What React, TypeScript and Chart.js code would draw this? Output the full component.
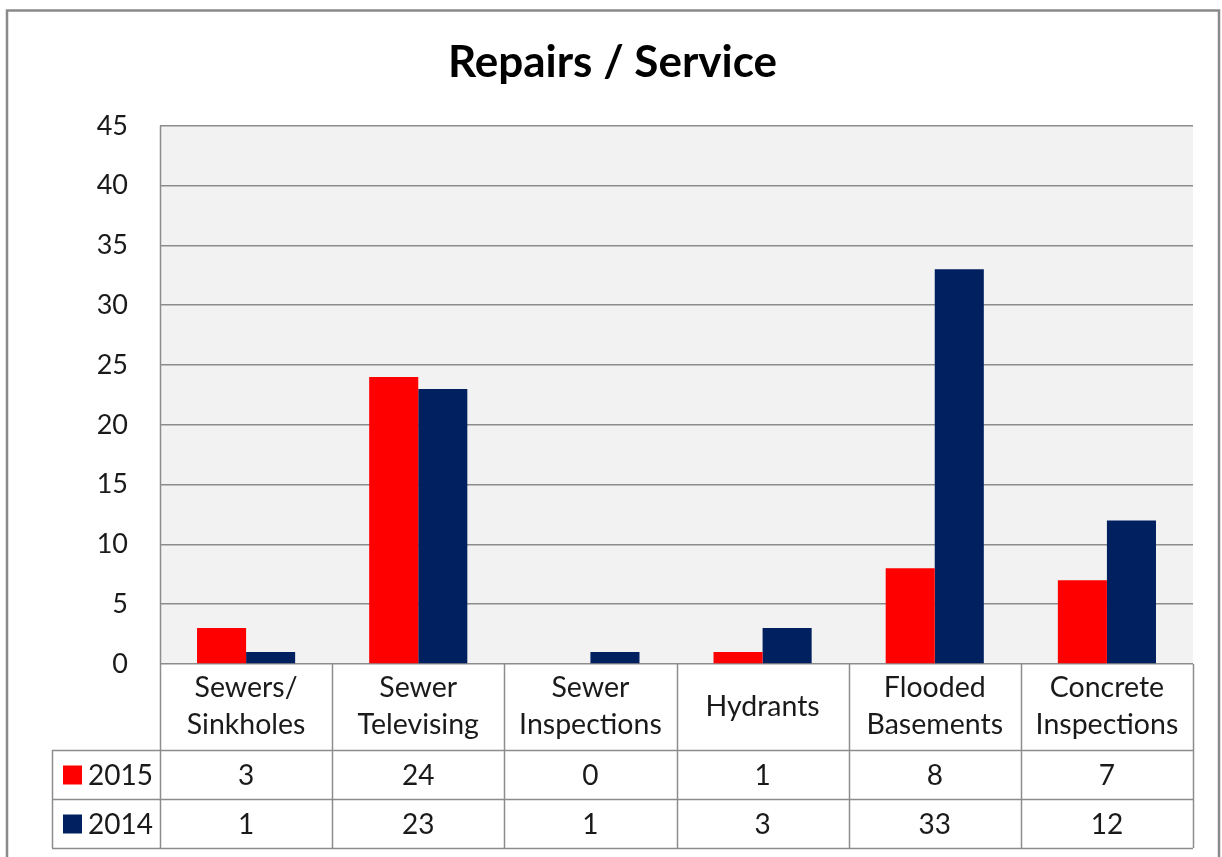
import React, { useEffect, useRef } from 'react';
import { Chart, registerables } from 'chart.js';

Chart.register(...registerables);

const title = 'Repairs / Service';
const categories: (string | string[])[] = [
  ['Sewers/', 'Sinkholes'],
  ['Sewer', 'Televising'],
  ['Sewer', 'Inspections'],
  'Hydrants',
  ['Flooded', 'Basements'],
  ['Concrete', 'Inspections'],
];
const seriesNames = ['2015', '2014'];
const values2015 = [3, 24, 0, 1, 8, 7];
const values2014 = [1, 23, 1, 3, 33, 12];
const seriesColors = ['#ff0000', '#002060'];
const yMin = 0;
const yMax = 45;
const yStep = 5;

const FONT = 'Lato, "Open Sans", sans-serif';
const TEXT = '#1a1a1a';
const LINE = '#8c8c8c';

const tablePlugin = {
  id: 'dataTable',
  beforeDraw(chart: any) {
    const { ctx, chartArea: a, width, height } = chart;
    ctx.save();
    ctx.fillStyle = '#ffffff';
    ctx.fillRect(0, 0, width, height);
    ctx.fillStyle = '#f2f2f2';
    ctx.fillRect(a.left, a.top, a.right - a.left, a.bottom - a.top);
    ctx.restore();
  },
  afterDraw(chart: any) {
    const { ctx, chartArea: a, scales } = chart;
    const x = scales.x;
    const n = categories.length;
    const colW = (a.right - a.left) / n;
    const headerBottom = a.bottom + 86;
    const rowH = 49;
    const tableLeft = 52;
    const tableBottom = headerBottom + rowH * seriesNames.length;
    ctx.save();
    ctx.strokeStyle = LINE;
    ctx.lineWidth = 1.5;
    for (let i = 0; i <= n; i++) {
      const px = Math.round(a.left + i * colW) + 0.5;
      ctx.beginPath();
      ctx.moveTo(px, a.bottom);
      ctx.lineTo(px, tableBottom);
      ctx.stroke();
    }
    ctx.beginPath();
    ctx.moveTo(tableLeft + 0.5, headerBottom);
    ctx.lineTo(tableLeft + 0.5, tableBottom);
    ctx.stroke();
    for (let r = 0; r <= seriesNames.length; r++) {
      const py = Math.round(headerBottom + r * rowH) + 0.5;
      ctx.beginPath();
      ctx.moveTo(tableLeft, py);
      ctx.lineTo(a.right, py);
      ctx.stroke();
    }
    ctx.beginPath();
    ctx.moveTo(a.left + 0.5, a.top);
    ctx.lineTo(a.left + 0.5, a.bottom);
    ctx.stroke();

    const allValues = [values2015, values2014];
    ctx.font = `28px ${FONT}`;
    ctx.textBaseline = 'middle';
    seriesNames.forEach((name, r) => {
      const cy = headerBottom + r * rowH + rowH / 2;
      ctx.fillStyle = seriesColors[r];
      ctx.fillRect(63, cy - 9, 19, 19);
      ctx.fillStyle = TEXT;
      ctx.textAlign = 'left';
      ctx.fillText(name, 88, cy + 1);
      ctx.textAlign = 'center';
      allValues[r].forEach((v, i) => {
        ctx.fillText(String(v), x.getPixelForValue(i), cy + 1);
      });
    });

    ctx.strokeStyle = '#8a8a8a';
    ctx.lineWidth = 2.5;
    ctx.strokeRect(7, 10.5, 1212, 860);
    ctx.restore();
  },
};

export default function App() {
  const ref = useRef<HTMLCanvasElement>(null);
  useEffect(() => {
    document.body.style.margin = '0';
    const chart = new Chart(ref.current!, {
      type: 'bar',
      data: {
        labels: categories,
        datasets: [
          {
            label: seriesNames[0],
            data: values2015,
            backgroundColor: seriesColors[0],
            borderWidth: 0,
          },
          {
            label: seriesNames[1],
            data: values2014,
            backgroundColor: seriesColors[1],
            borderWidth: 0,
          },
        ],
      },
      options: {
        animation: false,
        responsive: false,
        devicePixelRatio: 1,
        layout: { padding: { left: 32, right: 29, top: 0, bottom: 107 } },
        datasets: { bar: { categoryPercentage: 0.57, barPercentage: 1 } },
        plugins: {
          legend: { display: false },
          tooltip: { enabled: false },
          title: {
            display: true,
            text: title,
            color: '#000000',
            font: { family: FONT, size: 44, weight: 'bold' },
            padding: { top: 36, bottom: 37 },
          },
        },
        scales: {
          x: {
            grid: { display: false },
            border: { display: false },
            ticks: {
              color: TEXT,
              font: { family: FONT, size: 28.5, lineHeight: 1.3 },
              padding: 16,
              crossAlign: 'center',
              maxRotation: 0,
              autoSkip: false,
            },
            afterFit: (s: any) => {
              s.height = 86;
            },
          },
          y: {
            min: yMin,
            max: yMax,
            grid: { color: LINE, lineWidth: 1.5, drawTicks: false },
            border: { display: false },
            ticks: {
              stepSize: yStep,
              color: TEXT,
              font: { family: FONT, size: 27 },
              padding: 32,
            },
            afterFit: (s: any) => {
              s.width = 128;
            },
          },
        },
      },
      plugins: [tablePlugin],
    });
    return () => chart.destroy();
  }, []);
  return (
    <div style={{ position: 'fixed', left: 0, top: 0, width: 1222, height: 857 }}>
      <canvas ref={ref} width={1222} height={857} />
    </div>
  );
}
